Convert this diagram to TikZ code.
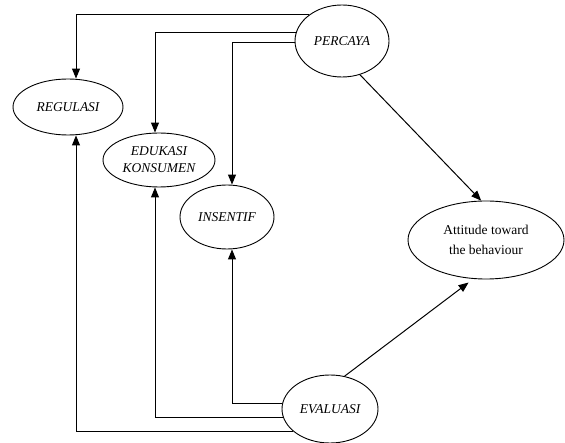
\documentclass[tikz,border=0pt]{standalone}
\usepackage{fontspec}
\setmainfont{Liberation Serif}
\usetikzlibrary{shapes.geometric, arrows.meta}
\tikzset{>={Triangle[length=10pt,width=8pt]}}
\tikzset{
  var/.style={draw, ellipse, line width=0.9pt, inner sep=0pt, align=center,
    font=\fontsize{13.5}{17}\selectfont\itshape},
  result/.style={var, font=\fontsize{13.5}{20}\selectfont}
}

\begin{document}
\begin{tikzpicture}[x=1pt, y=-1pt, line width=1pt]
\useasboundingbox (0,0) rectangle (565,443);
\node[var, minimum width=94, minimum height=72] (percaya) at (342,41) {PERCAYA};
\node[var, minimum width=110, minimum height=56] (regulasi) at (68,107) {REGULASI};
\node[var, minimum width=112, minimum height=54] (edukasi) at (159,160) {EDUKASI\\KONSUMEN};
\node[var, minimum width=94, minimum height=64] (insentif) at (227,217) {INSENTIF};
\node[result, minimum width=156, minimum height=78] (attitude) at (486,240) {Attitude toward\\the behaviour};
\node[var, minimum width=96, minimum height=68] (evaluasi) at (330,409) {EVALUASI};

\draw[->] (percaya.141) -| ([xshift=8pt]regulasi.north);
\draw[->] (percaya.169) -| ([xshift=-4pt]edukasi.north);
\draw[->] (percaya.182) -| ([xshift=5pt]insentif.north);
\draw[->] (percaya.298) -- (attitude.97);

\draw[->] (evaluasi.173) -| ([xshift=5pt]insentif.south);
\draw[->] (evaluasi.190) -| ([xshift=-4pt]edukasi.south);
\draw[->] (evaluasi.211) -| ([xshift=8pt]regulasi.south);
\draw[->, shorten >=6pt] (evaluasi.66) -- (attitude.252);
\end{tikzpicture}
\end{document}
